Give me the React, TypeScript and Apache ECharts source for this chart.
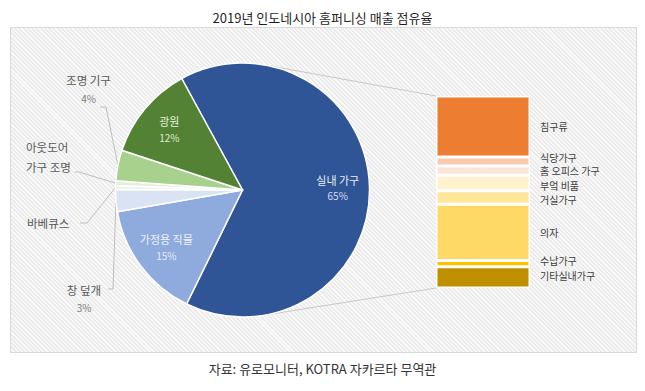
import React, { useEffect, useRef } from "react";
import * as echarts from "echarts";

const TITLE = "2019년 인도네시아 홈퍼니싱 매출 점유율";
const SOURCE = "자료: 유로모니터, KOTRA 자카르타 무역관";

// Pie (share of total, %)
const pieNames = ["실내 가구", "가정용 직물", "창 덮개", "바베큐스", "아웃도어 가구 조명", "조명 기구", "광원"];
const pieValues = [65.2, 15.0, 2.8, 0.5, 0.6, 3.9, 12.0];
const pieColors = ["#2F5597", "#8FAADC", "#DAE3F3", "#F2F2F2", "#E2F0D9", "#A9D18E", "#548235"];

// Breakdown of 실내 가구 (stacked bar)
const barNames = ["침구류", "식당가구", "홈 오피스 가구", "부엌 비품", "거실가구", "의자", "수납가구", "기타실내가구"];
const barValues = [20.7, 3.1, 3.1, 5.3, 4.6, 19.1, 2.1, 7.2];
const barColors = ["#ED7D31", "#F8CBAD", "#FBE5D6", "#FFF2CC", "#FFE699", "#FFD966", "#FFC000", "#BF8F00"];

// ---- layout / style ----
const FONT = "'Noto Sans CJK KR', 'Noto Sans', sans-serif";
const PIE = { cx: 242.5, cy: 190, r: 127, startAngle: 118.6 };
const BAR = { left: 436, top: 96, width: 94, height: 192 };
const barLabelNudge = [0, -4.5, 0.3, 2, 2, 0, -3, -1.5];

const insideLabel: Record<string, { n: string; p: string }> = {
  "실내 가구": { n: "#E6EBF4", p: "#D5DDEE" },
  "가정용 직물": { n: "#EEF2FA", p: "#E3EAF6" },
  "광원": { n: "#E5F0DA", p: "#DCEBCD" },
};
const outsideLabel: Record<string, any> = {
  "조명 기구": { x: 88.5, y: 89, align: "center", elbow: [106, 107], end: [100, 107], pct: true },
  "아웃도어 가구 조명": { x: 26, y: 157, align: "left", elbow: [79, 172], end: [75, 172], pct: false, split: true },
  "바베큐스": { x: 27, y: 223, align: "left", elbow: [87, 223], end: [80, 223], pct: false },
  "창 덮개": { x: 84, y: 298.5, align: "center", elbow: [113, 289], end: [108, 289], pct: true },
};

const total = pieValues.reduce((a, b) => a + b, 0);
const theta0 = 90 - PIE.startAngle; // clockwise from 12 o'clock
const midAngles: number[] = [];
{
  let acc = theta0;
  pieValues.forEach((v) => {
    const span = (v / total) * 360;
    midAngles.push(acc + span / 2);
    acc += span;
  });
}
const polar = (th: number, rr: number) => [
  PIE.cx + rr * Math.sin((th * Math.PI) / 180),
  PIE.cy - rr * Math.cos((th * Math.PI) / 180),
];
function tangent(px: number, py: number, upper: boolean) {
  const dx = PIE.cx - px, dy = PIE.cy - py;
  const d = Math.hypot(dx, dy);
  const phi = Math.atan2(dy, dx);
  const a = Math.asin(PIE.r / d);
  const ang = upper ? phi + a : phi - a;
  const L = Math.sqrt(d * d - PIE.r * PIE.r);
  return [px + L * Math.cos(ang), py + L * Math.sin(ang)];
}

export default function App() {
  const ref = useRef<HTMLDivElement>(null);
  useEffect(() => {
    if (!ref.current) return;
    const chart = echarts.init(ref.current, null, { renderer: "svg" });
    const barTotal = barValues.reduce((a, b) => a + b, 0);
    const topT = tangent(BAR.left, BAR.top, true);
    const botT = tangent(BAR.left, BAR.top + BAR.height, false);

    const pieData = pieNames.map((name, i) => {
      const ins = insideLabel[name];
      const out = outsideLabel[name];
      let label: any;
      if (ins) {
        label = {
          position: "inside",
          formatter: "{n|{b}}\n{p|{d}%}",
          rich: {
            n: { fontSize: 11, color: ins.n, lineHeight: 16, align: "center", fontFamily: FONT },
            p: { fontSize: 10, color: ins.p, lineHeight: 16, align: "center", fontFamily: FONT },
          },
        };
      } else {
        const words = name.split(" ");
        const nameText = out.split
          ? `{n|${words[0]}}\n{n|${words.slice(1).join(" ")}}`
          : `{n|${name}}`;
        label = {
          position: "outside",
          formatter: out.pct ? `${nameText}\n{p|{d}%}` : nameText,
          rich: {
            n: { fontSize: 11.5, color: "#595959", lineHeight: out.split ? 20 : 18, align: out.align, fontFamily: FONT },
            p: { fontSize: 10, color: "#7F7F7F", lineHeight: 18, align: out.align, fontFamily: FONT },
          },
        };
      }
      return {
        name,
        value: pieValues[i],
        itemStyle: { color: pieColors[i] },
        label,
        labelLine: { show: !ins },
      };
    });

    chart.setOption({
      animation: false,
      textStyle: { fontFamily: FONT },
      title: [
        {
          text: TITLE,
          left: "center",
          top: 6,
          textStyle: { fontSize: 13, fontWeight: "normal", color: "#1F1F1F", fontFamily: FONT },
        },
        {
          text: SOURCE,
          left: "center",
          top: 357,
          textStyle: { fontSize: 13, fontWeight: "normal", color: "#333333", fontFamily: FONT },
        },
      ],
      grid: { left: BAR.left, top: BAR.top, width: BAR.width, height: BAR.height },
      xAxis: { type: "category", data: ["실내 가구"], show: false },
      yAxis: { type: "value", inverse: true, min: 0, max: barTotal, show: false },
      graphic: [
        {
          type: "line",
          silent: true,
          z: 0,
          shape: { x1: topT[0], y1: topT[1], x2: BAR.left, y2: BAR.top },
          style: { stroke: "#C9C9C9", lineWidth: 1 },
        },
        {
          type: "line",
          silent: true,
          z: 0,
          shape: { x1: botT[0], y1: botT[1], x2: BAR.left, y2: BAR.top + BAR.height },
          style: { stroke: "#C9C9C9", lineWidth: 1 },
        },
      ],
      series: [
        {
          type: "pie",
          center: [PIE.cx, PIE.cy],
          radius: PIE.r,
          startAngle: PIE.startAngle,
          clockwise: true,
          percentPrecision: 0,
          avoidLabelOverlap: false,
          itemStyle: { borderColor: "#ffffff", borderWidth: 1.5 },
          label: { show: true, textBorderWidth: 0 },
          labelLine: { show: true, length: 5, length2: 5, lineStyle: { color: "#BFBFBF", width: 1 } },
          emphasis: { disabled: true },
          data: pieData,
          labelLayout: (params: any) => {
            const name = pieNames[params.dataIndex];
            const mid = midAngles[params.dataIndex];
            if (insideLabel[name]) {
              const [x, y] = polar(mid, PIE.r * 0.75);
              return { x, y, align: "center", verticalAlign: "middle" };
            }
            const o = outsideLabel[name];
            const edge = polar(mid, PIE.r);
            return {
              x: o.x,
              y: o.y,
              align: o.align,
              verticalAlign: "middle",
              labelLinePoints: [edge, o.elbow, o.end],
            };
          },
        },
        ...barNames.map((name, i) => ({
          type: "bar",
          name,
          stack: "sub",
          barWidth: "100%",
          data: [barValues[i]],
          itemStyle: { color: barColors[i], borderColor: "#ffffff", borderWidth: 1.5 },
          emphasis: { disabled: true },
          label: {
            show: true,
            position: "right",
            distance: 10,
            offset: [0, barLabelNudge[i]],
            formatter: name,
            color: "#404040",
            fontSize: 10,
            lineHeight: 12,
            fontFamily: FONT,
          },
        })),
      ],
    });
    return () => chart.dispose();
  }, []);

  return (
    <div style={{ position: "fixed", left: 0, top: 0, width: 645, height: 391, background: "#ffffff" }}>
      <div
        style={{
          position: "absolute",
          left: 10,
          top: 27,
          width: 627,
          height: 326,
          boxSizing: "border-box",
          border: "1px solid #DADADA",
          background:
            "repeating-linear-gradient(45deg, #EAEAEA 0px, #EAEAEA 1.4px, #F8F8F8 1.4px, #F8F8F8 3px)",
        }}
      />
      <div ref={ref} style={{ position: "absolute", left: 0, top: 0, width: 645, height: 391 }} />
    </div>
  );
}
